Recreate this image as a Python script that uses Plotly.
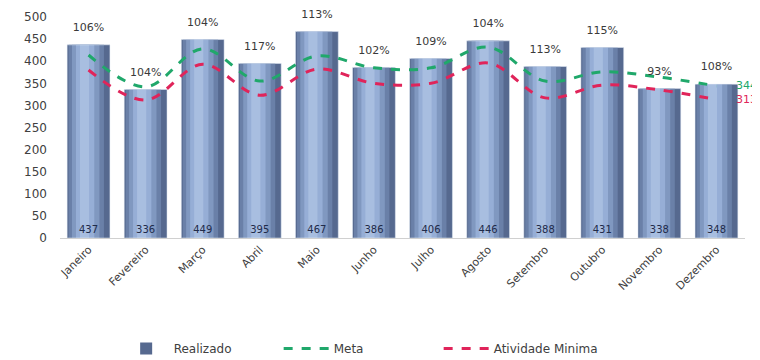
import plotly.graph_objects as go

meses = ["Janeiro", "Fevereiro", "Março", "Abril", "Maio", "Junho", "Julho",
         "Agosto", "Setembro", "Outubro", "Novembro", "Dezembro"]
realizado = [437, 336, 449, 395, 467, 386, 406, 446, 388, 431, 338, 348]
meta = [414, 342, 428, 355, 412, 385, 385, 432, 355, 376, 364, 344]
atividade_minima = [380, 312, 393, 323, 382, 350, 350, 396, 317, 346, 335, 313]
percentuais = ["106%", "104%", "104%", "117%", "113%", "102%", "109%",
               "104%", "113%", "115%", "93%", "108%"]

FONT = "DejaVu Sans"
fig = go.Figure()

# cylinder-like shading made of overlaid bars
layers = [
    (0.75, None, "#56698f", True),
    (0.62, -0.35, "#6a80a8", False),
    (0.48, -0.29, "#8098c0", False),
    (0.32, -0.22, "#96aed6", False),
    (0.16, -0.15, "#a8bee0", False),
]
for w, off, col, first in layers:
    kw = dict(x=meses, y=realizado, width=w, marker=dict(color=col, line=dict(width=0)),
              hoverinfo="skip")
    if off is not None:
        kw["offset"] = off
    if first:
        kw.update(name="Realizado", showlegend=True)
    else:
        kw.update(showlegend=False)
    fig.add_trace(go.Bar(**kw))

# value labels inside bars (bottom)
fig.add_trace(go.Bar(x=meses, y=realizado, width=0.75, marker=dict(color="rgba(0,0,0,0)"),
                     text=[str(v) for v in realizado], textposition="inside",
                     insidetextanchor="start", textangle=0,
                     textfont=dict(family=FONT, size=10, color="#1f2b4a"),
                     showlegend=False, hoverinfo="skip"))

fig.add_trace(go.Scatter(x=meses, y=meta, mode="lines", name="Meta",
                         line=dict(color="#20a86b", width=3, dash="dash", shape="spline")))
fig.add_trace(go.Scatter(x=meses, y=atividade_minima, mode="lines", name="Atividade Minima",
                         line=dict(color="#e0245a", width=3, dash="dash", shape="spline")))

# percentage labels above bars (invisible marker pushes the text upward)
fig.add_trace(go.Scatter(x=meses, y=realizado, mode="markers+text", text=percentuais,
                         marker=dict(size=16, opacity=0),
                         textposition="top center", cliponaxis=False,
                         textfont=dict(family=FONT, size=11, color="#3a3a3a"),
                         showlegend=False, hoverinfo="skip"))

fig.add_annotation(x=meses[-1], y=meta[-1], text=str(meta[-1]), showarrow=False,
                   xanchor="left", xshift=18, font=dict(family=FONT, size=11, color="#20a86b"))
fig.add_annotation(x=meses[-1], y=atividade_minima[-1], text=str(atividade_minima[-1]),
                   showarrow=False, xanchor="left", xshift=18,
                   font=dict(family=FONT, size=11, color="#e0245a"))

# page body has an 8px margin; size the figure so the visible window matches
fig.update_layout(
    width=752, height=352,
    margin=dict(l=52, r=15, t=9, b=122, autoexpand=False),
    barmode="overlay",
    plot_bgcolor="white", paper_bgcolor="white",
    font=dict(family=FONT, size=12, color="#404040"),
    legend=dict(orientation="h", x=0.436, xanchor="center", y=-0.50, yanchor="middle",
                entrywidth=100, itemwidth=45,
                font=dict(family=FONT, size=12, color="#404040")),
    xaxis=dict(range=[-0.5, 11.5], tickangle=-45, showgrid=False, showline=True,
               linecolor="#d0d0d0", ticks="",
               tickfont=dict(family=FONT, size=11, color="#404040")),
    yaxis=dict(range=[0, 500], dtick=50, showgrid=False, zeroline=False, showline=False,
               ticks="", ticklabelstandoff=12,
               tickfont=dict(family=FONT, size=12, color="#404040")),
)

fig.write_html("out.html")
